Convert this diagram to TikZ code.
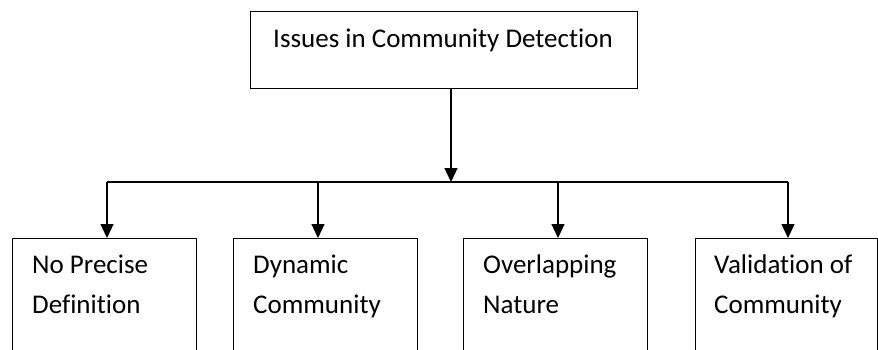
\documentclass[tikz,border=0pt]{standalone}
\usepackage{fontspec}
\setmainfont[Ligatures={NoCommon}]{Carlito}
\usetikzlibrary{arrows.meta}
\begin{document}
\begin{tikzpicture}[x=1pt,y=-1pt,
  box/.style={draw, line width=1.3pt, inner sep=0pt, anchor=north west},
  lbl/.style={font=\fontsize{27}{40}\selectfont, align=left, inner sep=0pt, anchor=base west},
  arr/.style={draw, line width=1.3pt, -{Triangle[width=13pt,length=14pt]}},
  ln/.style={draw, line width=1.3pt}]
\useasboundingbox (0,0) rectangle (878,349);
\fill[white] (0,0) rectangle (878,349);
\node[box, minimum width=387pt, minimum height=77pt] (top) at (250,11) {};
\node[box, minimum width=184pt, minimum height=180pt] (b1) at (12,238) {};
\node[box, minimum width=184pt, minimum height=180pt] (b2) at (233,238) {};
\node[box, minimum width=184pt, minimum height=180pt] (b3) at (463,238) {};
\node[box, minimum width=182pt, minimum height=180pt] (b4) at (695,238) {};
\node[lbl, anchor=base] (tt) at (443,47) {Issues in Community Detection};
\node[lbl] (t1) at (32,313) {No Precise\\Definition};
\node[lbl] (t2) at (253,313) {Dynamic\\Community};
\node[lbl] (t3) at (483,313) {Overlapping\\Nature};
\node[lbl] (t4) at (714,313) {Validation of\\Community};
\coordinate (j) at (451,182);
\coordinate (h1) at (107,182);
\coordinate (h2) at (318,182);
\coordinate (h3) at (558,182);
\coordinate (h4) at (788,182);
\draw[arr] (j |- top.south) -- (j);
\draw[ln] (h1) -- (h4);
\draw[arr] (h1) -- (h1 |- b1.north);
\draw[arr] (h2) -- (h2 |- b2.north);
\draw[arr] (h3) -- (h3 |- b3.north);
\draw[arr] (h4) -- (h4 |- b4.north);
\end{tikzpicture}
\end{document}
